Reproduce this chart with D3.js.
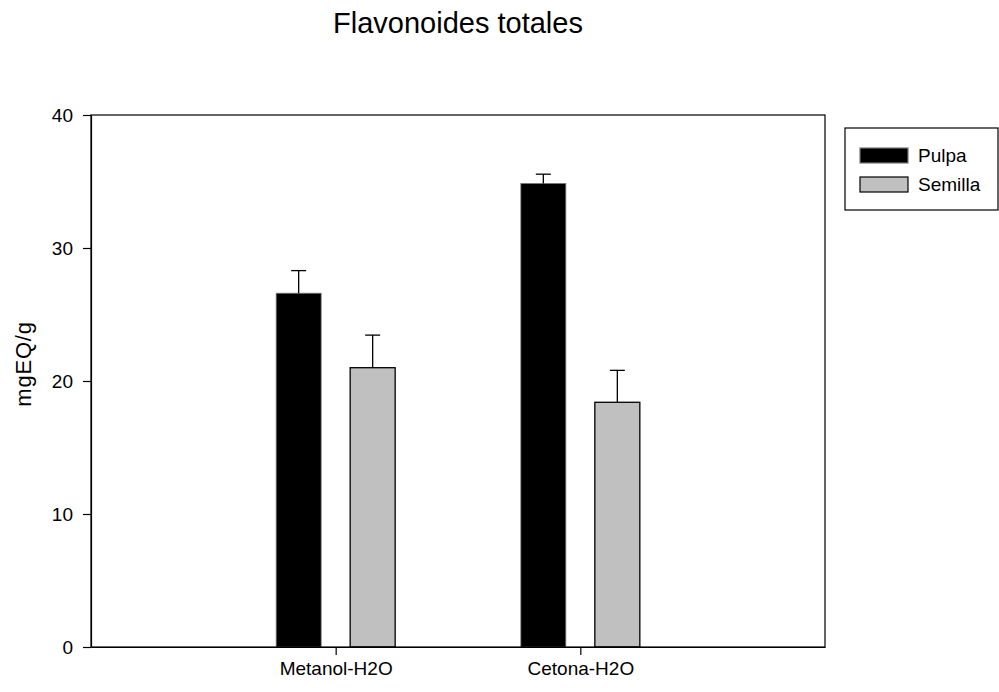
<!DOCTYPE html>
<html>
<head>
<meta charset="utf-8">
<script src="https://cdn.jsdelivr.net/npm/d3@7"></script>
<style>
  body { margin: 0; background: #fff; }
  svg text { font-family: "Liberation Sans", Arial, sans-serif; fill: #000; }
</style>
</head>
<body>
<div class="chart"></div>
<script>
var svgWidth = 999;
var svgHeight = 692;

var margin = { top: 115, right: 174, bottom: 45, left: 91 };
var width = svgWidth - margin.left - margin.right;
var height = svgHeight - margin.top - margin.bottom;

// data
var categories = ["Metanol-H2O", "Cetona-H2O"];
var series = ["Pulpa", "Semilla"];
var pulpaValues = [26.6, 34.85];
var pulpaErrors = [1.7, 0.7];
var semillaValues = [21.0, 18.4];
var semillaErrors = [2.45, 2.4];
var yTicks = [0, 10, 20, 30, 40];

var colors = { Pulpa: "#000000", Semilla: "#c0c0c0" };
var strokes = { Pulpa: "#777777", Semilla: "#000000" };

var rows = [];
categories.forEach(function(c, i) {
  rows.push({ cat: c, key: "Pulpa", value: pulpaValues[i], err: pulpaErrors[i] });
  rows.push({ cat: c, key: "Semilla", value: semillaValues[i], err: semillaErrors[i] });
});

var svg = d3.select(".chart")
  .append("svg")
  .attr("width", svgWidth)
  .attr("height", svgHeight);

var chartGroup = svg.append("g")
  .attr("transform", `translate(${margin.left}, ${margin.top})`);

// group centres sit at 1/3 and 2/3 of the axis
var x0 = d3.scalePoint()
  .domain(["_l"].concat(categories, ["_r"]))
  .range([0, width]);

var x1 = d3.scaleBand()
  .domain(series)
  .range([-59.5, 59.5])
  .paddingInner(0.392);

var yLinearScale = d3.scaleLinear()
  .domain([0, 40])
  .range([height, 0]);

// bars
chartGroup.selectAll(".bar")
  .data(rows)
  .enter()
  .append("rect")
  .attr("class", "bar")
  .attr("x", d => x0(d.cat) + x1(d.key))
  .attr("y", d => yLinearScale(d.value))
  .attr("width", x1.bandwidth())
  .attr("height", d => height - yLinearScale(d.value))
  .attr("fill", d => colors[d.key])
  .attr("stroke", d => strokes[d.key])
  .attr("stroke-width", d => d.key == "Semilla" ? 1.3 : 0.8);

// error bars (upper only)
var errGroup = chartGroup.selectAll(".err")
  .data(rows)
  .enter()
  .append("g")
  .attr("class", "err")
  .attr("stroke", "#000")
  .attr("stroke-width", 1.3);

errGroup.append("line")
  .attr("x1", d => x0(d.cat) + x1(d.key) + x1.bandwidth() / 2)
  .attr("x2", d => x0(d.cat) + x1(d.key) + x1.bandwidth() / 2)
  .attr("y1", d => yLinearScale(d.value))
  .attr("y2", d => yLinearScale(d.value + d.err));

errGroup.append("line")
  .attr("x1", d => x0(d.cat) + x1(d.key) + x1.bandwidth() / 2 - 7.5)
  .attr("x2", d => x0(d.cat) + x1(d.key) + x1.bandwidth() / 2 + 7.5)
  .attr("y1", d => yLinearScale(d.value + d.err))
  .attr("y2", d => yLinearScale(d.value + d.err));

// frame
chartGroup.append("rect")
  .attr("width", width)
  .attr("height", height)
  .attr("fill", "none")
  .attr("stroke", "#000")
  .attr("stroke-width", 1.2);

// axes
var leftAxis = d3.axisLeft(yLinearScale)
  .tickValues(yTicks)
  .tickSize(8)
  .tickPadding(10)
  .tickSizeOuter(0);

var bottomAxis = d3.axisBottom(x0)
  .tickValues(categories)
  .tickSize(8)
  .tickPadding(7)
  .tickSizeOuter(0);

var yAxisG = chartGroup.append("g").call(leftAxis);
var xAxisG = chartGroup.append("g")
  .attr("transform", `translate(0, ${height})`)
  .call(bottomAxis);

[yAxisG, xAxisG].forEach(function(g) {
  g.select(".domain").attr("stroke", "#000").attr("stroke-width", 1.2);
  g.selectAll(".tick line").attr("stroke", "#000").attr("stroke-width", 1.2);
  g.selectAll(".tick text")
    .attr("font-family", "Liberation Sans, Arial, sans-serif")
    .attr("font-size", 19)
    .attr("fill", "#000");
});

// axis title
svg.append("text")
  .attr("transform", "translate(31, 364) rotate(-90)")
  .attr("text-anchor", "middle")
  .attr("font-size", 22)
  .attr("letter-spacing", 0.8)
  .text("mgEQ/g");

// chart title
svg.append("text")
  .attr("x", 458)
  .attr("y", 33)
  .attr("text-anchor", "middle")
  .attr("font-size", 29)
  .text("Flavonoides totales");

// legend
var legend = svg.append("g")
  .attr("transform", "translate(845, 128)");

legend.append("rect")
  .attr("width", 153)
  .attr("height", 82)
  .attr("fill", "#fff")
  .attr("stroke", "#000")
  .attr("stroke-width", 1.2);

var legendItem = legend.selectAll(".item")
  .data(series)
  .enter()
  .append("g")
  .attr("class", "item")
  .attr("transform", (d, i) => `translate(15, ${20 + i * 29})`);

legendItem.append("rect")
  .attr("width", 48)
  .attr("height", 15)
  .attr("fill", d => colors[d])
  .attr("stroke", d => strokes[d])
  .attr("stroke-width", 1.2);

legendItem.append("text")
  .attr("x", 58)
  .attr("y", 14)
  .attr("font-size", 19)
  .text(d => d);
</script>
</body>
</html>
